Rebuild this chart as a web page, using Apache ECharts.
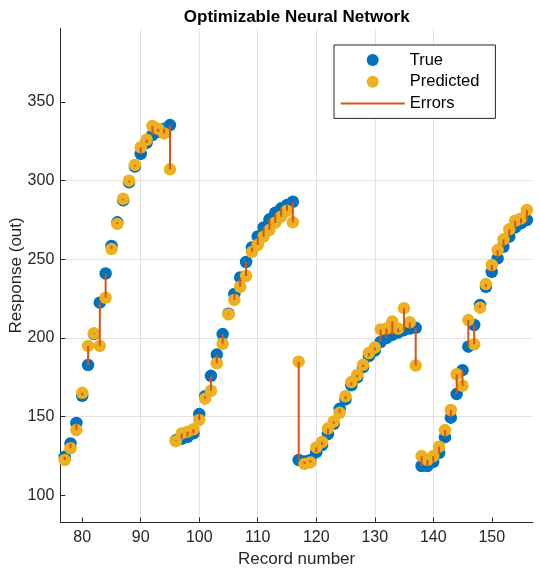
<!DOCTYPE html>
<html>
<head>
<meta charset="utf-8">
<script src="https://cdn.jsdelivr.net/npm/echarts@6/dist/echarts.min.js"></script>
<style>html,body{margin:0;padding:0;background:#fff}#c{width:540px;height:573px}</style>
</head>
<body>
<div id="c"></div>
<script>
const records = [77,78,79,80,81,82,83,84,85,86,87,88,89,90,91,92,93,94,95,96,97,98,99,100,
  101,102,103,104,105,106,107,108,109,110,111,112,113,114,115,116,117,118,119,120,
  121,122,123,124,125,126,127,128,129,130,131,132,133,134,135,136,137,138,139,140,
  141,142,143,144,145,146,147,148,149,150,151,152,153,154,155,156];
const trueVals = [124.5,133,146,163.3,182.8,202.5,222.5,241,258.5,273.5,287.5,299,309,317,324,329,331,333,335.3,
  135,136,137.3,139.5,151.7,163,176,189.5,202.5,215.5,228,238.5,248.3,257.5,264.5,270.3,275.4,279.6,282.4,284.5,286.6,
  122.5,121.5,122.5,127.5,132,139,145.5,155,161,170,175,181.5,188.5,192,197.5,200,202,203.5,205,206,206.5,
  118.7,118.7,121.4,127,137,149.4,164.4,179.6,194.5,208.3,221,232.6,242,250.6,258,264.4,270.3,272.9,275];
const predVals = [122.5,130,141.5,165.2,195,203,195,225.6,256.5,272.5,288.5,300,310,321.2,326,334.7,333,330,307.2,
  134.5,139.4,140.5,142,147.9,161.5,166.5,184,196.4,215,224.2,232.6,239.4,254.6,259.1,264.4,268.6,273.3,277.1,280.9,273.5,
  185,120,121,130.5,134,142.5,147,152.5,163,172,176.5,183,190.5,194,205.5,206,210.5,206,219,210,182.5,
  125,122.5,125,131,141.5,154.3,177,169.7,211.4,196,219.3,234.3,246.4,255.9,262.7,269.1,274.5,276,281.4];
const xTicks = [80,90,100,110,120,130,140,150];
const yTicks = [100,150,200,250,300,350];

const FONT = '"Liberation Sans", Arial, Helvetica, sans-serif';
const AX = '#262626';
const GRID = '#e2e2e2';

const chart = echarts.init(document.getElementById('c'), null, {renderer: 'canvas'});
chart.setOption({
  animation: false,
  backgroundColor: '#fff',
  textStyle: {fontFamily: FONT},
  title: {
    text: 'Optimizable Neural Network',
    left: 296.7, top: 8.5, textAlign: 'center', padding: 0,
    textStyle: {fontFamily: FONT, fontSize: 17, fontWeight: 'bold', color: '#000'}
  },
  legend: {
    orient: 'vertical',
    left: 334, top: 45,
    padding: [6.5, 16, 6.5, 6.7],
    itemGap: 4.7,
    itemWidth: 64, itemHeight: 12,
    borderColor: AX, borderWidth: 1, backgroundColor: '#fff',
    textStyle: {fontFamily: FONT, fontSize: 16.5, lineHeight: 17, color: '#000'},
    data: [
      {name: 'True', icon: 'circle'},
      {name: 'Predicted', icon: 'circle'},
      {name: 'Errors', icon: 'path://M0,0H64V2H0Z'}
    ],
    selectedMode: false
  },
  grid: {left: 60.3, top: 28.3, right: 7, bottom: 50.5, containLabel: false, outerBoundsMode: 'none'},
  xAxis: {
    type: 'value', min: 76.25, max: 157.05, splitNumber: 8,
    name: 'Record number', nameLocation: 'middle', nameGap: 28, nameMoveOverlap: false,
    nameTextStyle: {fontFamily: FONT, fontSize: 17, color: AX},
    axisLine: {show: true, lineStyle: {color: AX, width: 1}},
    axisTick: {show: true, inside: true, length: 5, lineStyle: {color: AX}, customValues: xTicks},
    axisLabel: {fontFamily: FONT, fontSize: 16, color: AX, margin: 7, customValues: xTicks},
    splitLine: {show: true, showMinLine: false, showMaxLine: false, lineStyle: {color: GRID, width: 1}}
  },
  yAxis: {
    type: 'value', min: 82.8, max: 396.8, splitNumber: 6,
    name: 'Response (out)', nameLocation: 'middle', nameGap: 35, nameMoveOverlap: false,
    nameTextStyle: {fontFamily: FONT, fontSize: 17, color: AX},
    axisLine: {show: true, lineStyle: {color: AX, width: 1}},
    axisTick: {show: true, inside: true, length: 5, lineStyle: {color: AX}, customValues: yTicks},
    axisLabel: {fontFamily: FONT, fontSize: 16, color: AX, margin: 6, customValues: yTicks},
    splitLine: {show: true, showMinLine: false, showMaxLine: false, lineStyle: {color: GRID, width: 1}}
  },
  series: [
    {
      name: 'True', type: 'scatter', symbol: 'circle', symbolSize: 12.5, z: 2,
      itemStyle: {color: '#0072BD', opacity: 1},
      data: records.map((r, i) => [r, trueVals[i]])
    },
    {
      name: 'Predicted', type: 'scatter', symbol: 'circle', symbolSize: 12.5, z: 3,
      itemStyle: {color: '#EDB120', opacity: 1},
      data: records.map((r, i) => [r, predVals[i]])
    },
    {
      name: 'Errors', type: 'custom', z: 4,
      itemStyle: {color: '#D95319'},
      encode: {x: 0, y: [1, 2]},
      renderItem: function (params, api) {
        const x = api.value(0);
        const a = api.coord([x, api.value(1)]);
        const b = api.coord([x, api.value(2)]);
        return {
          type: 'line',
          shape: {x1: a[0], y1: a[1], x2: b[0], y2: b[1]},
          style: {stroke: '#D95319', lineWidth: 2}
        };
      },
      data: records.map((r, i) => [r, trueVals[i], predVals[i]])
    }
  ]
});
</script>
</body>
</html>
